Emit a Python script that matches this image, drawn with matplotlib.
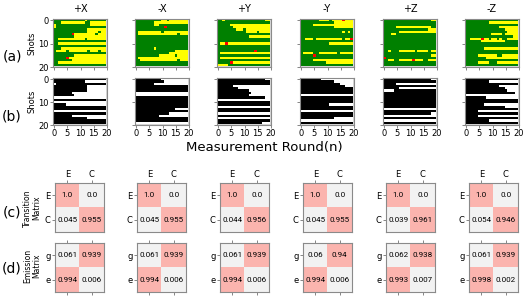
import numpy as np
import matplotlib
matplotlib.use('Agg')
import matplotlib.pyplot as plt
from matplotlib.colors import ListedColormap

bases = ['+X', '-X', '+Y', '-Y', '+Z', '-Z']
rounds_ticks = [0, 5, 10, 15, 20]
shot_ticks = [0, 10, 20]

# (a) raw outcomes per shot/round: G = green, Y = yellow, R = red
obs_px = [
    "GGGGGGGGGGGGYGGGGGGG", "GGGYYYYYYYYYGGYYYYYY", "YGGGGGGGGGGGGGYYYYYY", "YGGGGGGGGGGGGGGGGGGG",
    "GGGGGGGGGGGGGYYYYYYY", "GGGGGGGGGGGGGYYYYGYY", "GGGGGGGRYYYYYYYYGYYY", "GGGGGGGGYYYYYYYYYYYY",
    "GGYYYYYYYYYYGYYYYYYY", "GGGGGGGGGGGGGGGGGGGG", "GGYYYYYYYYYYYYYYYYYY", "GGGGGGGGGGGGGGGGGGGG",
    "GGGYYYYYYYYYYYYYYYYY", "GYYYYGYYYYYYYGYYYGYY", "GGGGGGGGGGGGGGGGGGGG", "GGGGGGGGYYYYYYYYYYYY",
    "GGGGGRYYYYYYYYYYYYYY", "GGGGGGGYYYYYYYYYYYYY", "GGYYYYYYYYYYYYYYYYYY", "GGGGGGGGGGGGGGGGGGGG"]
obs_mx = [
    "GGGGGGGGGGYYGYYYYYYY", "GGGGGGGYYYYYYYYYYYYY", "GGGGGGGYYGGGGGGGGGGG", "GGGGGGGGGGGRGGGGGGGG",
    "GGGGGGGGGGGGGGGGGGGG", "GYYYYYYYYYGYYYYYYYYY", "GYYYYYYYYYYYYYYYGYYY", "GGGGGGGGGGGGGGGGGGGG",
    "GGGGGGGGGGGGGGGGGGGG", "GGGGGGGGGGGGGGGGGGGG", "GGGGGGGGGGGGGGGGGGGG", "GGGGGGGGGGGGGGGGGGGG",
    "GGGGGGGYGGGGGGGGGGGG", "GGGGGGGGGGGGGGGYYYYY", "GGGGGGGGGGGGGYYYYYYY", "GGGGGGGGGYYYYYYGYYYY",
    "GYYYYYYYYYYYYYYYYYYY", "GGYYYYYYYYYYYYYYGYYY", "GGGGGGGGGGGGGGGGGGGG", "GGGGGGGGGGGGGGGGGGGG"]
obs_py = [
    "GGYGGGGGGGGGGGGGGGYY", "GGGGGGGGGGGGGGGGGGGG", "GGGGGYYYYYYYYYYYYYYY", "GGGGGGYYYYYYYYYYYYYY",
    "GGGGGGGYYYGYYYYYYYYY", "GGGGGGGGGGGYYYYGYYYY", "GGGGGGGGGGGGGGGGGGGG", "GGGGGGGGGGGGYYYYYYYY",
    "GGGGGGGGGGGGGGGGGGGG", "GGGGGGGGGGGGGGGGGGGG", "GYYRYYYYYYYYYYYYYYYY", "GGGGGGGGGGGGGGGGGGGG",
    "GGGGGGGGGGGGGGGGGGGG", "GGGGGGGGGGGGGGRGGGGG", "GYYYYYYYYYYYYYYYYYYY", "GGGGGGGGGGGGGGGGGGGG",
    "GYYYYYYYYYYYYYYYYYYY", "GGGGGGGGGGGGGGGGGGGG", "GGGGGRYYYYYYYYYYYYYY", "YYYYGGGGGGGGGGGGGGGG"]
obs_my = [
    "GGGGGGGYYYYGYYYYRYYY", "GGGGGGGGGGGGGYYYYYYY", "GGGGGYYYYYYYYYYYYYYY", "GGGGGGGGGGGGGYYYYYYY",
    "GGGGGGGGGGGGGGGGGGGG", "GGGGGGGGGGGGGGGGYGYG", "GGGGGGGGGGGGGGGGGGGG", "GGGGGGGGGGGGGGGGGGGG",
    "GGYYYGYYYYYYYYYYGYYR", "GGGGGGGGGGGGGGGGGGGG", "GGGGGGGGGGGYYYYYYYYY", "GGGGGGGGGGGGGGGGGGGG",
    "GGGGGGGGGGGGGGGGGGGG", "GGGGGGGGGGGGGGGGGGGG", "GYYYYGGYYYYYYYGYYYYY", "GGGGGRGGGGGGGGGGGGGG",
    "GGGGGGGGGGGGGGGGGGGG", "GGGGGYYYYYYYYYYYYYYY", "GGGGGGGGGGYYYYYYYYYY", "GGGGGGGGGGGGGGGGGGGG"]
obs_pz = [
    "GGGGGGGGGGGGGGGGGGYY", "GGGGGGGGGGGGGGGGGGGG", "GGGGGGGGGGGGGGGGGGGG", "GGGGGYYYYYYYYYYYYYGG",
    "GGGGGGGGGGGGGGGGGYYY", "GGGGGGYYYYYYYYYYYYYY", "GGGYYGGGGGGGGGGGGGGG", "GGGGGGGGGGGGGGGGGGGG",
    "GGGGGGGGGGGGGGGGGGGG", "GGGGGGGGGGGGGGGGGGGG", "GGGGGGGGGGGGGGGGGGGG", "GGGGGGGGGGGGGGGGGGGG",
    "GGGGGGGGGGGGGGGGGGGG", "GGYGGGYYYYYYGYYYYGYY", "GGGGGGGGGGGGGGGGGGGG", "GGGGGGGGGGGGGGGGGGYY",
    "RGGGGGGGGGGGGGGGGGGG", "GGYYGGYYYYYRYYYGGYYY", "GGGGGGGGGGGGGGGGGGGG", "GGGGGGGGGGGGGGGGGGGG"]
obs_mz = [
    "GGGGGGGGGGGGGGGGGGGG", "GGGGGGGGGYYYYYYYYYYY", "GGGGGGGGGGGGGGGGGGGG", "GGGGGGGGGGGGGYYYYYYY",
    "GGGGGGGGGGGGGGGYYYYY", "GGGGGGGGGGGGGGGGYYYY", "GGGGGGGGGGYYYYGYYYYY", "GGGGGGGGGGGGGGGGGGYY",
    "GGYYYYRYYGYYGYGGYYYY", "GGGGGGYYYYYYYYYGGGGG", "GGGGGGGGGGGGGGGGGGGG", "GGGGGGGGGGGGGGGGGGGG",
    "GGGGGGGYYYYYYYYYYYYY", "GGGGGGGGGGGGGGGGGGGG", "GGGGGGGGGGGGGGGGGGGG", "GGGGGYYYYYYYGGYYYYYY",
    "GGGGGGGGYYYYYYYYYYYY", "GGGGGGGGGGGGGGGGGGGG", "GGGGGYYYYGGGYYYYYYYY", "GGGGGGGGGGGGGGGGGGGG"]

# (b) decoded states per shot/round: 1 = black, 0 = white
dec_px = [
    "11111111111111111111", "11111111111100000000", "01111111111111111111", "11111111111110000000",
    "11111111111110000000", "11111111111110000000", "11111110000000000000", "11111111000000000000",
    "00000000000000000000", "11111111111111111111", "00000000000000000000", "11111000000000000000",
    "11111111111111111111", "11111111111111111111", "00000000000000000000", "11111111111111111111",
    "11111110000000000000", "11111111111110000000", "11111111111111111111", "11111111111111111111"]
dec_mx = [
    "11111111110000000000", "11111111111000000000", "11111110000000000000", "11111111111111111111",
    "11111111111111111111", "11111111111111111111", "00000000000000000000", "00000000000000000000",
    "11111111111111111111", "11111111111111111111", "11111111111111111111", "11111111111111111111",
    "11111111111111111111", "11111111111111100000", "11111111111111111111", "11111111111110000000",
    "11111111100000000000", "11111111111111111111", "11111111111111111111", "00000000000000000000"]
dec_py = [
    "11111111111111111100", "11111111111111111111", "11111111111111111111", "11111100000000000000",
    "11111111000000000000", "11111111111100000000", "11111111111110000000", "11111111111100000000",
    "11111111111111111100", "00000000000000000000", "11111111111111111111", "11111111111111111111",
    "00000000000000000000", "11111111111111111111", "11111111111111111111", "00000000000000000000",
    "11111111111111111111", "00000000000000000000", "11111111111111111111", "11111111111111111000"]
dec_my = [
    "11111111000000000000", "11111111111110000000", "11111111111111100000", "11111111111111111000",
    "11111111111111111111", "11111111111111111111", "11111111111111111111", "00000000000000000000",
    "11111111111111111111", "11111111111111111111", "11111111111111111111", "11111111111000000000",
    "11111111111111111111", "11111111111111111111", "00000000000000000000", "11111111111111111111",
    "11111111111111111111", "11111111111110000000", "00000000000000000000", "11111111111111111111"]
dec_pz = [
    "11111111111111111100", "11111111111111111111", "11111000000000000000", "11111111111111111111",
    "11111100000000000000", "00001111111111111111", "11111111111111111111", "11111111111111111111",
    "11111111111111111111", "11111111111111111111", "11111111111111111111", "11111111111111111111",
    "11111111111111111111", "00000000000000000000", "11111111111111111111", "11111111111111111100",
    "00000000000000000000", "11111111111111111111", "00000000000000000000", "11111111111111111111"]
dec_mz = [
    "11111111111111111111", "11111111100000000000", "11111111111111111111", "11111111111110000000",
    "11111111111111100000", "11111111111111110000", "11111111111111111110", "00000000000000000000",
    "11111111000000000000", "11111111111111111111", "11111111111111111111", "11111110000000000000",
    "11111111111111100000", "11111111111111111111", "11111000000000000000", "11111111111111111111",
    "11111000000000000000", "11111111111111111111", "11111111100000000000", "11111111111111111111"]

# (c) transition matrices, rows/cols: E, C
trans_px = [[1.0, 0.0], [0.045, 0.955]]
trans_mx = [[1.0, 0.0], [0.045, 0.955]]
trans_py = [[1.0, 0.0], [0.044, 0.956]]
trans_my = [[1.0, 0.0], [0.045, 0.955]]
trans_pz = [[1.0, 0.0], [0.039, 0.961]]
trans_mz = [[1.0, 0.0], [0.054, 0.946]]
# (d) emission matrices, rows: g, e ; cols: E, C
emis_px = [[0.061, 0.939], [0.994, 0.006]]
emis_mx = [[0.061, 0.939], [0.994, 0.006]]
emis_py = [[0.061, 0.939], [0.994, 0.006]]
emis_my = [[0.06, 0.94], [0.994, 0.006]]
emis_pz = [[0.062, 0.938], [0.993, 0.007]]
emis_mz = [[0.061, 0.939], [0.998, 0.002]]

state_labels = ['E', 'C']
emis_row_labels = ['g', 'e']

obs_all = [obs_px, obs_mx, obs_py, obs_my, obs_pz, obs_mz]
dec_all = [dec_px, dec_mx, dec_py, dec_my, dec_pz, dec_mz]
trans_all = [trans_px, trans_mx, trans_py, trans_my, trans_pz, trans_mz]
emis_all = [emis_px, emis_mx, emis_py, emis_my, emis_pz, emis_mz]

plt.rcParams['font.family'] = ['DejaVu Sans']
W, H = 528, 296
fig = plt.figure(figsize=(W / 100, H / 100), dpi=100)


def ax_px(x0, y0, w, h):
    return fig.add_axes([x0 / W, 1 - (y0 + h) / H, w / W, h / H])


cmap_obs = ListedColormap(['#008000', '#ffff00', '#ff0000'])
cmap_dec = ListedColormap(['#ffffff', '#000000'])
spine_col = '#8a8a8a'

img_x0 = [53, 135, 217, 300, 383, 465]
hm_x0 = [55, 137, 220, 303, 386, 469]


def style_img(ax, xlabels, ylabels):
    ax.set_xlim(-0.5, 20)
    ax.set_ylim(20, -0.5)
    ax.set_facecolor('#d8d8d8')
    ax.set_xticks(rounds_ticks)
    ax.set_yticks(shot_ticks)
    if not xlabels:
        ax.set_xticklabels([])
    if not ylabels:
        ax.set_yticklabels([])
    ax.tick_params(length=2, width=0.5, labelsize=6, pad=1, color='#555555')
    for s in ax.spines.values():
        s.set_color(spine_col)
        s.set_linewidth(0.8)


for k in range(6):
    a = np.array([['GYR'.index(c) for c in row] for row in obs_all[k]])
    ax = ax_px(img_x0[k], 19, 54, 48)
    ax.imshow(a, cmap=cmap_obs, vmin=0, vmax=2, aspect='auto', interpolation='nearest')
    style_img(ax, False, k == 0)
    ax.set_title(bases[k], fontsize=7, pad=5)
    if k == 0:
        ax.set_ylabel('Shots', fontsize=6, labelpad=1)

    b = np.array([[int(c) for c in row] for row in dec_all[k]])
    ax = ax_px(img_x0[k], 78, 54, 47)
    ax.imshow(b, cmap=cmap_dec, vmin=0, vmax=1, aspect='auto', interpolation='nearest')
    style_img(ax, True, k == 0)
    if k == 0:
        ax.set_ylabel('Shots', fontsize=6, labelpad=1)


def heat(ax, m, rlabels, top_labels):
    m = np.array(m)
    ax.imshow(m, cmap='Pastel1_r', vmin=0, vmax=1, aspect='auto')
    for i in range(2):
        for j in range(2):
            ax.text(j, i, f"{m[i, j]}", ha='center', va='center', fontsize=5.8,
                    family='Roboto')
    ax.xaxis.tick_top()
    ax.set_xticks([0, 1])
    ax.set_xticklabels(state_labels if top_labels else [])
    ax.set_yticks([0, 1])
    ax.set_yticklabels(rlabels)
    ax.tick_params(length=2, width=0.5, labelsize=6, pad=1, color='#555555')
    if not top_labels:
        ax.tick_params(axis='x', bottom=True, top=True)
    for s in ax.spines.values():
        s.set_color(spine_col)
        s.set_linewidth(0.8)


for k in range(6):
    ax = ax_px(hm_x0[k], 183, 49, 49)
    heat(ax, trans_all[k], state_labels, True)
    ax = ax_px(hm_x0[k], 243, 49, 49)
    heat(ax, emis_all[k], emis_row_labels, False)

fig.text(264 / W, 1 - 147 / H, 'Measurement Round(n)', ha='center', va='center', fontsize=9.5)
for lab, y in [('(a)', 56), ('(b)', 117), ('(c)', 212), ('(d)', 269)]:
    fig.text(12 / W, 1 - y / H, lab, ha='center', va='center', fontsize=10)
fig.text(32 / W, 1 - 208 / H, 'Transition\nMatrix', ha='center', va='center',
         rotation=90, fontsize=5.5, linespacing=1.0)
fig.text(32 / W, 1 - 266 / H, 'Emission\nMatrix', ha='center', va='center',
         rotation=90, fontsize=5.5, linespacing=1.0)

fig.savefig('out.png', dpi=100)
